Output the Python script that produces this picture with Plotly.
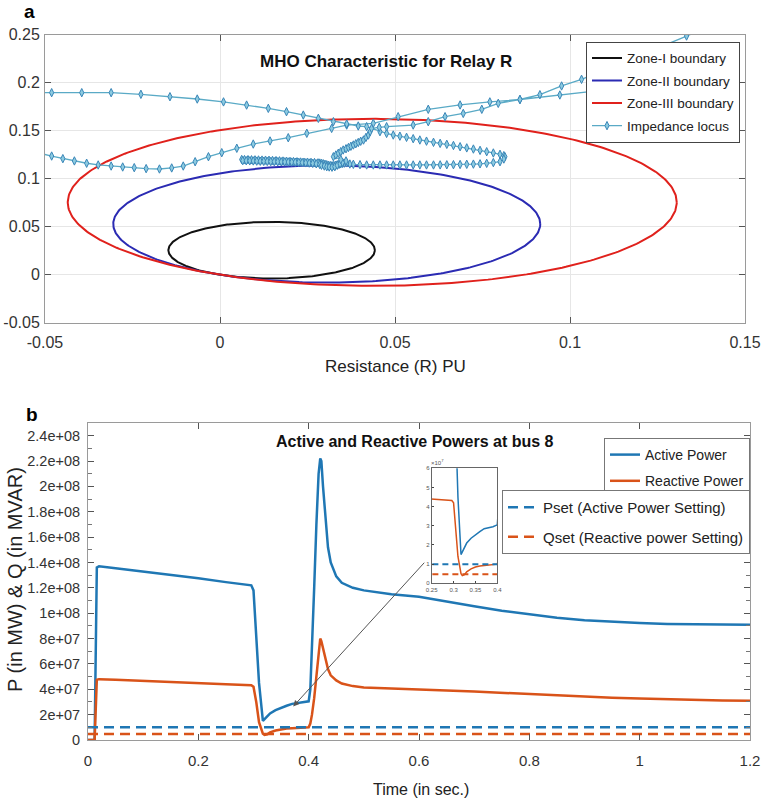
import numpy as np
import plotly.graph_objects as go

FONT = "Liberation Sans"

# ---------------- Panel a : MHO characteristic ----------------
zone_names = ["Zone-I boundary", "Zone-II boundary", "Zone-III boundary"]
zone_reach = [0.059, 0.122, 0.174]      # mho circle diameters (pu)
zone_angle_deg = 60.0                   # relay characteristic angle
zone_colors = ["#111111", "#2b2bb3", "#e0211c"]

# impedance locus, in time order (segments)
locus_A_x = [0.145, 0.1333, 0.1033, 0.0976, 0.0914, 0.0857, 0.0771, 0.0686, 0.0595, 0.0509, 0.0438]
locus_A_y = [0.267, 0.2486, 0.2035, 0.1966, 0.1875, 0.1825, 0.1800, 0.1768, 0.1723, 0.1646, 0.1577]

locus_L_x = [0.0362, 0.0319, 0.0248, 0.0195, 0.0143, 0.0095, 0.0048, 0.0005, -0.0033, -0.0071,
             -0.0105, -0.0138, -0.0173, -0.0211, -0.0245, -0.0278, -0.0311, -0.0348, -0.0381,
             -0.0416, -0.0449, -0.0481, -0.0515, -0.060]
locus_L_y = [0.1559, 0.1524, 0.1473, 0.1427, 0.1393, 0.1361, 0.1317, 0.1271, 0.1229, 0.1177,
             0.1132, 0.1112, 0.1101, 0.1105, 0.1115, 0.1122, 0.1132, 0.1143, 0.1161,
             0.1185, 0.1209, 0.1236, 0.1265, 0.160]

locus_U_x = [-0.0515, -0.0481, -0.0395, -0.0311, -0.0226, -0.0143, -0.0065, 0.001, 0.0076, 0.0138,
             0.019, 0.0238, 0.0281, 0.0324, 0.0362, 0.0395, 0.0419]
locus_U_y = [0.1896, 0.1896, 0.1896, 0.1896, 0.1879, 0.1854, 0.183, 0.180, 0.1767, 0.1733,
             0.1698, 0.1663, 0.1629, 0.1594, 0.157, 0.1549, 0.1542]

locus_loopup_x = [0.0457, 0.0476, 0.0495, 0.0514, 0.0533, 0.0552, 0.0571, 0.059, 0.061, 0.0629,
                  0.0648, 0.0667, 0.0686, 0.0705, 0.0724, 0.0743, 0.0762, 0.0781, 0.080, 0.0811, 0.0814]
locus_loopup_y = [0.149, 0.1472, 0.1455, 0.1443, 0.1431, 0.1417, 0.1403, 0.1391, 0.1379, 0.1368,
                  0.1358, 0.1346, 0.1333, 0.1321, 0.1309, 0.1295, 0.1281, 0.1268, 0.1254, 0.124, 0.1229]

locus_looplo_x = [0.0811, 0.080, 0.0781, 0.0762, 0.0743, 0.0724, 0.0705, 0.0686, 0.0667, 0.0648,
                  0.0629, 0.061, 0.059, 0.0571, 0.0552, 0.0533, 0.0514, 0.0495, 0.0476, 0.0457,
                  0.0438, 0.0419, 0.040, 0.0381, 0.0371]
locus_looplo_y = [0.1205, 0.1177, 0.1168, 0.116, 0.1155, 0.1152, 0.115, 0.1148, 0.1146, 0.1145,
                  0.1144, 0.1143, 0.1143, 0.1143, 0.1143, 0.1143, 0.1143, 0.1143, 0.1143, 0.1143,
                  0.1143, 0.1143, 0.1146, 0.115, 0.1153]

locus_clusterL_x = [0.0362, 0.0355, 0.035, 0.0345, 0.034, 0.0335, 0.033, 0.0325, 0.032, 0.0315,
                    0.031, 0.0305, 0.030, 0.0295, 0.029, 0.0285, 0.028, 0.027, 0.026,
                    0.025, 0.024, 0.023, 0.022, 0.021, 0.020, 0.019, 0.018, 0.017, 0.016, 0.015,
                    0.014, 0.013, 0.012, 0.011, 0.010, 0.009, 0.008, 0.007, 0.0062]
locus_clusterL_y = [0.1165, 0.1162, 0.116, 0.1155, 0.115, 0.1145, 0.114, 0.1137, 0.1135, 0.1137,
                    0.114, 0.1145, 0.115, 0.1155, 0.116, 0.1163, 0.1165, 0.1168, 0.117,
                    0.1172, 0.1172, 0.1174, 0.1176, 0.1178, 0.118, 0.1182, 0.1184, 0.1186, 0.1188, 0.119,
                    0.1192, 0.1193, 0.1194, 0.1195, 0.1196, 0.1197, 0.1198, 0.1199, 0.120]

locus_clusterR_x = [0.0065, 0.0075, 0.0085, 0.0095, 0.0105, 0.0115, 0.0125, 0.0135, 0.0145, 0.0155,
                    0.0165, 0.0175, 0.0185, 0.0195, 0.0205, 0.0215, 0.0225, 0.0235, 0.0245, 0.0255,
                    0.0265, 0.0275, 0.0285, 0.029, 0.0298, 0.0305, 0.0312, 0.032, 0.0328, 0.0335,
                    0.0343, 0.035, 0.036, 0.0345]
locus_clusterR_y = [0.1188, 0.1187, 0.1186, 0.1185, 0.1183, 0.1182, 0.1181, 0.118, 0.1179, 0.1178,
                    0.1177, 0.1176, 0.1175, 0.1174, 0.1173, 0.1172, 0.117, 0.1168, 0.1165, 0.1163,
                    0.116, 0.1155, 0.1148, 0.114, 0.1132, 0.1125, 0.1122, 0.112, 0.1125, 0.114,
                    0.1155, 0.117, 0.1185, 0.120]

locus_rise_x = [0.0324, 0.0331, 0.0338, 0.0345, 0.0352, 0.036, 0.0367, 0.0374, 0.0381, 0.0388,
                0.0395, 0.0402, 0.041, 0.0417, 0.0424, 0.0429, 0.0433, 0.0455]
locus_rise_y = [0.1229, 0.1247, 0.1265, 0.1282, 0.1299, 0.1312, 0.1325, 0.1338, 0.1351, 0.1364,
                0.1377, 0.139, 0.1403, 0.143, 0.1455, 0.149, 0.1524, 0.1535]

locus_B_x = [0.0476, 0.0552, 0.0595, 0.0643, 0.0695, 0.0748, 0.0795, 0.0857, 0.0971, 0.1076, 0.125]
locus_B_y = [0.1542, 0.1559, 0.1594, 0.1646, 0.168, 0.1723, 0.1785, 0.1825, 0.1872, 0.1915, 0.196]

locus_x = (locus_A_x + locus_L_x + locus_U_x + locus_loopup_x + locus_looplo_x
           + locus_clusterL_x + locus_clusterR_x + locus_rise_x + locus_B_x)
locus_y = (locus_A_y + locus_L_y + locus_U_y + locus_loopup_y + locus_looplo_y
           + locus_clusterL_y + locus_clusterR_y + locus_rise_y + locus_B_y)

a_xticks = [-0.05, 0, 0.05, 0.1, 0.15]
a_xticklabels = ["-0.05", "0", "0.05", "0.1", "0.15"]
a_yticks = [-0.05, 0, 0.05, 0.1, 0.15, 0.2, 0.25]
a_yticklabels = ["-0.05", "0", "0.05", "0.1", "0.15", "0.2", "0.25"]

# ---------------- Panel b : powers at bus 8 ----------------
t = [0, 0.012, 0.016, 0.02, 0.05, 0.1, 0.15, 0.2, 0.25, 0.296, 0.3, 0.305, 0.31, 0.317, 0.32,
     0.325, 0.33, 0.34, 0.35, 0.36, 0.37, 0.38, 0.39, 0.4, 0.403, 0.406, 0.41, 0.414, 0.418,
     0.421, 0.423, 0.426, 0.43, 0.435, 0.44, 0.45, 0.46, 0.48, 0.5, 0.55, 0.6, 0.65, 0.7,
     0.75, 0.8, 0.85, 0.9, 0.95, 1.0, 1.05, 1.1, 1.15, 1.2]
P = [0, 0, 1.36e8, 1.37e8, 1.355e8, 1.33e8, 1.30e8, 1.275e8, 1.245e8, 1.22e8, 1.18e8, 8.5e7,
     4.5e7, 1.5e7, 1.65e7, 1.9e7, 2.1e7, 2.35e7, 2.55e7, 2.7e7, 2.85e7, 2.9e7, 2.95e7, 3.05e7,
     4.0e7, 7.0e7, 1.2e8, 1.7e8, 2.1e8, 2.22e8, 2.2e8, 2.0e8, 1.75e8, 1.52e8, 1.4e8, 1.29e8,
     1.24e8, 1.2e8, 1.18e8, 1.15e8, 1.13e8, 1.09e8, 1.055e8, 1.02e8, 0.99e8, 0.965e8, 0.945e8,
     0.932e8, 0.922e8, 0.915e8, 0.911e8, 0.909e8, 0.908e8]
Q = [0, 0, 4.75e7, 4.8e7, 4.75e7, 4.65e7, 4.55e7, 4.47e7, 4.4e7, 4.32e7, 4.2e7, 3.0e7,
     1.4e7, 5e6, 4e6, 4.5e6, 6e6, 7.5e6, 8.5e6, 9e6, 9.3e6, 9.6e6, 9.8e6, 1.0e7,
     1.3e7, 2.0e7, 3.3e7, 5.2e7, 7.2e7, 8.0e7, 7.8e7, 7.2e7, 6.4e7, 5.6e7, 5.1e7, 4.7e7,
     4.45e7, 4.25e7, 4.15e7, 4.05e7, 3.97e7, 3.9e7, 3.82e7, 3.72e7, 3.62e7, 3.5e7, 3.4e7,
     3.33e7, 3.27e7, 3.21e7, 3.16e7, 3.12e7, 3.1e7]
t_set = [0, 1.2]
Pset = [1.0e7, 1.0e7]
Qset = [4.7e6, 4.7e6]

b_xticks = [0, 0.2, 0.4, 0.6, 0.8, 1.0, 1.2]
b_xticklabels = ["0", "0.2", "0.4", "0.6", "0.8", "1", "1.2"]
b_yticks = [0, 2e7, 4e7, 6e7, 8e7, 1e8, 1.2e8, 1.4e8, 1.6e8, 1.8e8, 2e8, 2.2e8, 2.4e8]
b_yticklabels = ["0", "2e+07", "4e+07", "6e+07", "8e+07", "1e+08", "1.2e+08", "1.4e+08",
                 "1.6e+08", "1.8e+08", "2e+08", "2.2e+08", "2.4e+08"]
inset_xticks = [0.25, 0.3, 0.35, 0.4]
inset_xticklabels = ["0.25", "0.3", "0.35", "0.4"]
inset_yticks = [0, 1e7, 2e7, 3e7, 4e7, 5e7, 6e7]
inset_yticklabels = ["0", "1", "2", "3", "4", "5", "6"]

P_COLOR = "#1f77b4"
Q_COLOR = "#d95319"

fig = go.Figure()

# zone circles
theta = np.linspace(0, 2 * np.pi, 400)
ang = np.deg2rad(zone_angle_deg)
for name, d, col in zip(zone_names, zone_reach, zone_colors):
    cx, cy, r = d / 2 * np.cos(ang), d / 2 * np.sin(ang), d / 2
    fig.add_trace(go.Scatter(x=cx + r * np.cos(theta), y=cy + r * np.sin(theta), mode="lines",
                             name=name, line=dict(color=col, width=2), xaxis="x", yaxis="y",
                             legend="legend", legendgroup=name))

fig.add_trace(go.Scatter(x=locus_x, y=locus_y, mode="lines+markers", name="Impedance locus",
                         line=dict(color="#5aaac6", width=1.3),
                         marker=dict(symbol="diamond-tall", size=6, color="#8ccbe0",
                                     line=dict(color="#3a86b8", width=1)),
                         xaxis="x", yaxis="y", legend="legend", legendgroup="locus"))

# panel b main
fig.add_trace(go.Scatter(x=t, y=P, mode="lines", name="Active Power", legendgroup="p",
                         line=dict(color=P_COLOR, width=2.5), xaxis="x2", yaxis="y2", legend="legend2"))
fig.add_trace(go.Scatter(x=t, y=Q, mode="lines", name="Reactive Power", legendgroup="q",
                         line=dict(color=Q_COLOR, width=2.5), xaxis="x2", yaxis="y2", legend="legend2"))
fig.add_trace(go.Scatter(x=t_set, y=Pset, mode="lines", name="Pset (Active Power Setting)",
                         legendgroup="ps",
                         line=dict(color=P_COLOR, width=2.5, dash="10px,6px"),
                         xaxis="x2", yaxis="y2", legend="legend3"))
fig.add_trace(go.Scatter(x=t_set, y=Qset, mode="lines", name="Qset (Reactive power Setting)",
                         legendgroup="qs",
                         line=dict(color=Q_COLOR, width=2.5, dash="10px,6px"),
                         xaxis="x2", yaxis="y2", legend="legend3"))

# inset
for yy, col in [(P, P_COLOR), (Q, Q_COLOR)]:
    fig.add_trace(go.Scatter(x=t, y=yy, mode="lines", showlegend=False,
                             line=dict(color=col, width=1.5), xaxis="x3", yaxis="y3"))
for yy, col in [(Pset, P_COLOR), (Qset, Q_COLOR)]:
    fig.add_trace(go.Scatter(x=t_set, y=yy, mode="lines", showlegend=False,
                             line=dict(color=col, width=2, dash="6px,4px"), xaxis="x3", yaxis="y3"))

W, H = 764, 803
def px(xp): return xp / W
def py(yp): return 1 - yp / H

def axc(size=15):
    return dict(showline=True, linecolor="#9a9a9a", linewidth=1, mirror="allticks",
                ticks="inside", tickcolor="#555", zeroline=False, automargin=False,
                tickfont=dict(family=FONT, size=size, color="#333"))

fig.update_layout(
    width=W, height=H, margin=dict(l=0, r=0, t=0, b=0, autoexpand=False),
    paper_bgcolor="white", plot_bgcolor="white",
    font=dict(family=FONT, color="#222"),
    xaxis=dict(domain=[px(45), px(745)], anchor="y", range=[-0.05, 0.15],
               tickmode="array", tickvals=a_xticks, ticktext=a_xticklabels,
               showgrid=True, gridcolor="#e6e6e6", ticklen=6, ticklabelstandoff=5,
               **axc(16)),
    yaxis=dict(domain=[py(322.7), py(34.7)], anchor="x", range=[-0.05, 0.25],
               tickmode="array", tickvals=a_yticks, ticktext=a_yticklabels,
               showgrid=True, gridcolor="#e6e6e6", ticklen=6, ticklabelstandoff=1,
               **axc(16)),
    xaxis2=dict(domain=[px(88), px(750)], anchor="y2", range=[0, 1.2],
                tickmode="array", tickvals=b_xticks, ticktext=b_xticklabels,
                showgrid=False, ticklen=6, ticklabelstandoff=7,
                **axc(15)),
    yaxis2=dict(domain=[py(740), py(423)], anchor="x2", range=[0, 2.5e8],
                tickmode="array", tickvals=b_yticks, ticktext=b_yticklabels,
                showgrid=False, ticklen=6, ticklabelstandoff=4,
                minor=dict(tickmode="linear", tick0=0, dtick=1e7, ticks="inside", ticklen=4,
                           tickcolor="#777", showgrid=False),
                **axc(14.5)),
    xaxis3=dict(domain=[px(431.7), px(497.3)], anchor="y3", range=[0.25, 0.4],
                tickmode="array", tickvals=inset_xticks, ticktext=inset_xticklabels,
                showline=True, mirror=True, linecolor="#666", ticks="inside", ticklen=2,
                showgrid=False, zeroline=False, automargin=False,
                tickfont=dict(size=6, color="#555")),
    yaxis3=dict(domain=[py(583.3), py(468.3)], anchor="x3", range=[0, 6e7],
                tickmode="array", tickvals=inset_yticks, ticktext=inset_yticklabels,
                showline=True, mirror=True, linecolor="#666", ticks="inside", ticklen=2,
                showgrid=False, zeroline=False, automargin=False,
                tickfont=dict(size=6, color="#555")),
    legend=dict(x=px(740), y=py(41.7), xanchor="right", yanchor="top", bgcolor="white",
                bordercolor="#444", borderwidth=1, tracegroupgap=2, traceorder="grouped",
                font=dict(family=FONT, size=13.5, color="#222")),
    legend2=dict(x=px(750), y=py(438), xanchor="right", yanchor="top", bgcolor="white",
                 bordercolor="#777", borderwidth=1, tracegroupgap=5, traceorder="grouped",
                 font=dict(family=FONT, size=14, color="#222")),
    legend3=dict(x=px(750), y=py(490), xanchor="right", yanchor="top", bgcolor="white",
                 bordercolor="#777", borderwidth=1, tracegroupgap=7, traceorder="grouped",
                 font=dict(family=FONT, size=15, color="#222")),
)

def ann(text, x, y, size, bold=False, angle=0, color="#222"):
    fig.add_annotation(text=f"<b>{text}</b>" if bold else text, x=px(x), y=py(y),
                       xref="paper", yref="paper", showarrow=False, textangle=angle,
                       xanchor="center", yanchor="middle",
                       font=dict(family=FONT, size=size, color=color))

ann("a", 29, 12, 19, bold=True, color="#000")
ann("b", 31.5, 415, 19, bold=True, color="#000")
ann("MHO Characteristic for Relay R", 385.5, 62, 17, bold=True, color="#111")
ann("Active and Reactive Powers at bus 8", 414.7, 441.7, 16, bold=True, color="#111")
ann("Resistance (R) PU", 395.5, 366.7, 17)
ann("Time (in sec.)", 421, 789, 16)
ann("P (in MW) &amp; Q (in MVAR)", 15, 580, 20, angle=-90)
ann("×10<sup>7</sup>", 437, 462, 6, color="#555")

# arrow pointing from inset to the zoomed region
fig.add_annotation(x=0.372, y=2.65e7, xref="x2", yref="y2", ax=0.612, ay=1.41e8,
                   axref="x2", ayref="y2", showarrow=True, arrowhead=2, arrowsize=1.2,
                   arrowwidth=1, arrowcolor="#555", text="")

fig.write_html("out.html", config={"displayModeBar": False},
               post_script="document.body.style.margin='0';document.body.style.overflow='hidden';")
